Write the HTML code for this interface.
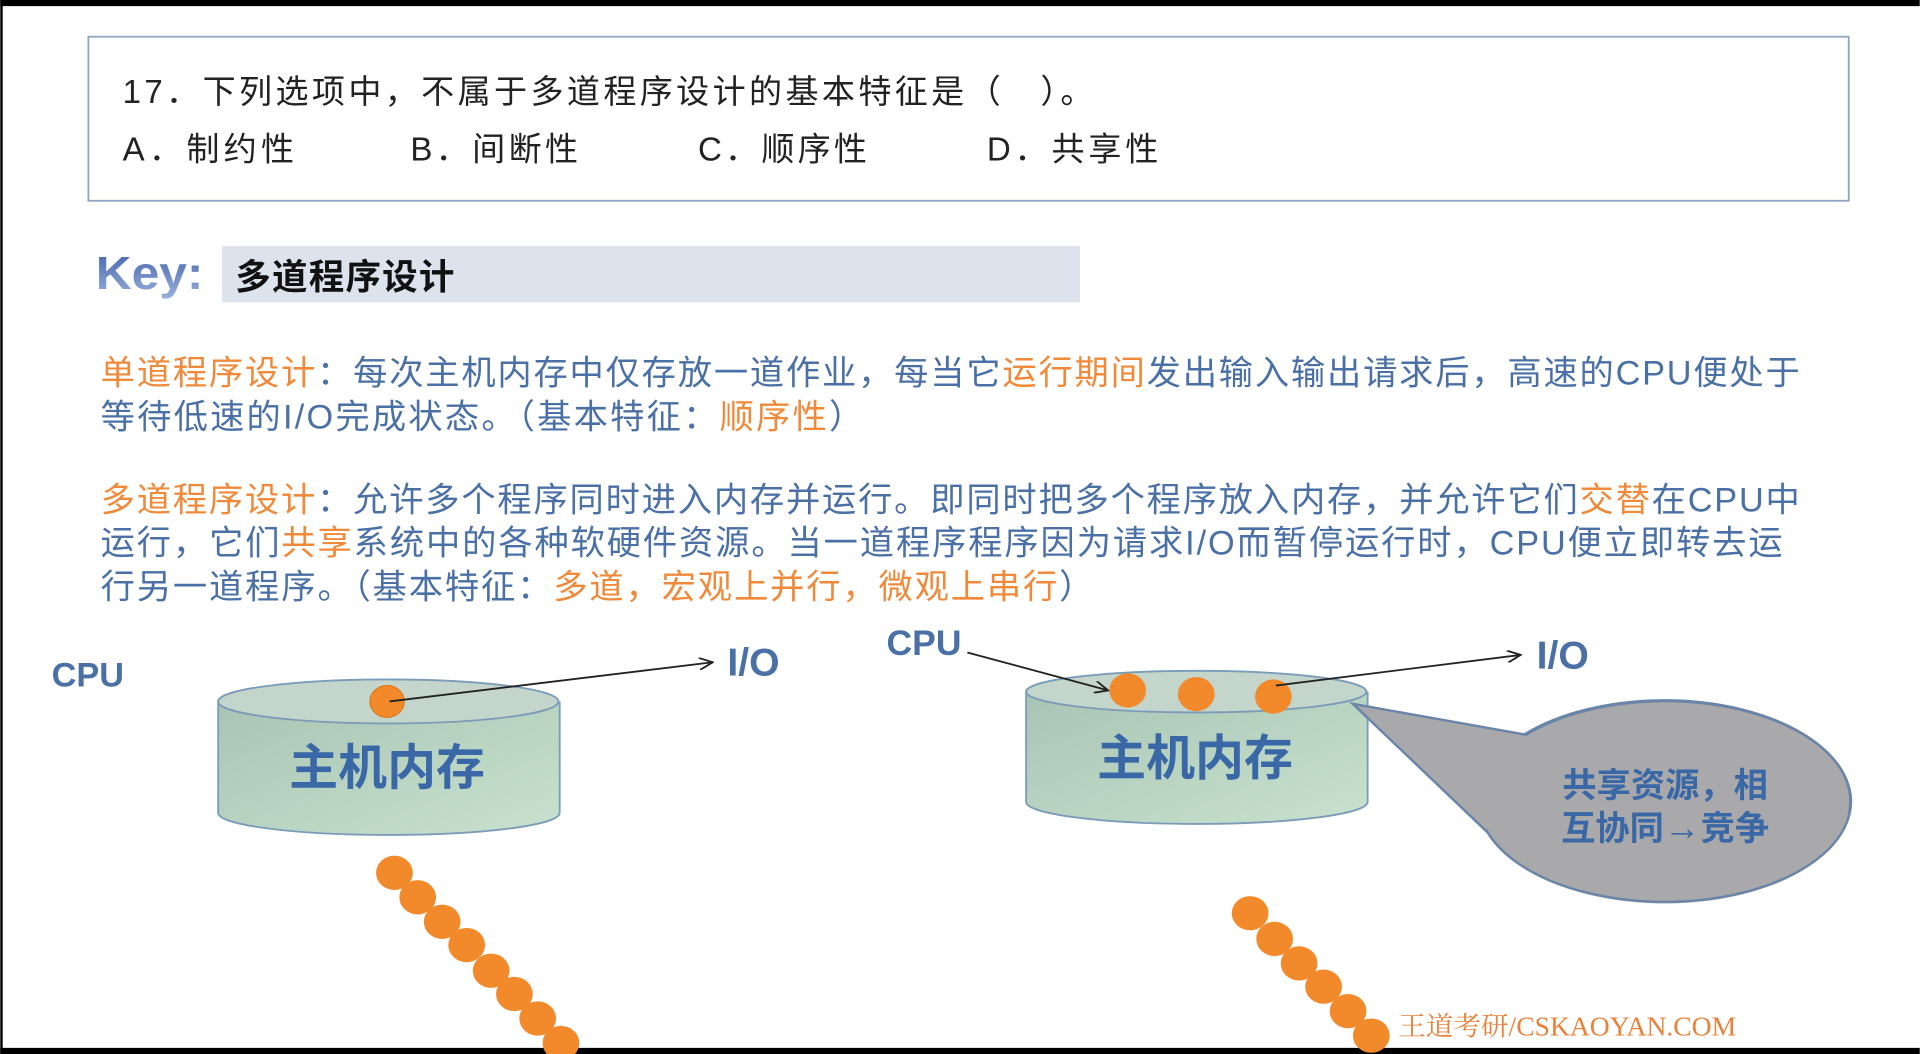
<!DOCTYPE html>
<html><head><meta charset="utf-8"><style>
html,body{margin:0;padding:0;background:#fff;width:1920px;height:1054px;overflow:hidden}
svg{display:block}
text{font-family:"Liberation Sans","Noto Sans CJK SC",sans-serif}
</style></head><body>
<svg width="1920" height="1054" viewBox="0 0 1568 861" xmlns="http://www.w3.org/2000/svg">
<defs>
<linearGradient id="cyl" x1="0" y1="0" x2="1" y2="1"><stop offset="0" stop-color="#a9c4b4"/><stop offset="1" stop-color="#c9e2cf"/></linearGradient>
<linearGradient id="key" x1="0" y1="0" x2="0" y2="1"><stop offset="0" stop-color="#3f5fa8"/><stop offset="1" stop-color="#9ab0dc"/></linearGradient>
<marker id="ar" markerWidth="12" markerHeight="10" refX="11" refY="5" orient="auto" markerUnits="userSpaceOnUse"><path d="M0,0 L11,5 L0,10" fill="none" stroke="#222" stroke-width="1.5"/></marker>
</defs>
<rect x="0" y="0" width="1568" height="861" fill="#fff"/>
<rect x="0" y="0" width="1568" height="5" fill="#000"/>
<rect x="0" y="856" width="1568" height="5" fill="#000"/>
<rect x="0" y="0" width="2" height="861" fill="#000"/>
<rect x="72" y="30" width="1438" height="134" fill="#fff" stroke="#8fa6c4" stroke-width="1.5"/>
<text x="100" y="84" font-size="27" fill="#222" textLength="793" lengthAdjust="spacing">17．下列选项中，不属于多道程序设计的基本特征是（　）。</text>
<g font-size="27" fill="#222">
<text x="100" y="131" textLength="140" lengthAdjust="spacing">A．制约性</text>
<text x="335" y="131" textLength="137" lengthAdjust="spacing">B．间断性</text>
<text x="570" y="131" textLength="138" lengthAdjust="spacing">C．顺序性</text>
<text x="806" y="131" textLength="140" lengthAdjust="spacing">D．共享性</text>
</g>
<text x="78" y="236" font-size="38" font-weight="bold" fill="url(#key)" textLength="88" lengthAdjust="spacingAndGlyphs">Key:</text>
<rect x="181" y="201" width="701" height="46" fill="#dce3ed"/>
<text x="192" y="236" font-size="29" font-weight="bold" fill="#111" textLength="179" lengthAdjust="spacing">多道程序设计</text>
<g font-size="28" fill="#4a70a6">
<text x="82" y="314" textLength="1388" lengthAdjust="spacing"><tspan fill="#f08a3a">单道程序设计</tspan>：每次主机内存中仅存放一道作业，每当它<tspan fill="#f08a3a">运行期间</tspan>发出输入输出请求后，高速的CPU便处于</text>
<text x="82" y="350" textLength="623" lengthAdjust="spacing">等待低速的I/O完成状态。（基本特征：<tspan fill="#f08a3a">顺序性</tspan>）</text>
<text x="82" y="418" textLength="1388" lengthAdjust="spacing"><tspan fill="#f08a3a">多道程序设计</tspan>：允许多个程序同时进入内存并运行。即同时把多个程序放入内存，并允许它们<tspan fill="#f08a3a">交替</tspan>在CPU中</text>
<text x="82" y="453" textLength="1374" lengthAdjust="spacing">运行，它们<tspan fill="#f08a3a">共享</tspan>系统中的各种软硬件资源。当一道程序程序因为请求I/O而暂停运行时，CPU便立即转去运</text>
<text x="82" y="489" textLength="811" lengthAdjust="spacing">行另一道程序。（基本特征：<tspan fill="#f08a3a">多道，宏观上并行，微观上串行</tspan>）</text>
</g>
<!-- left -->
<text x="42" y="561" font-size="28" font-weight="bold" fill="#4a70a6">CPU</text>
<path d="M178,573 L178,664 A139,18 0 0 0 457,664 L457,573" fill="url(#cyl)" stroke="#7a9cb8" stroke-width="1.5"/>
<ellipse cx="317" cy="573" rx="139" ry="18" fill="#c4d6cc" stroke="#7a9cb8" stroke-width="1.5"/>
<text x="316" y="641" font-size="40" font-weight="bold" fill="#3a68a6" text-anchor="middle">主机内存</text>
<ellipse cx="316" cy="573" rx="14" ry="13" fill="#f28a2c" stroke="#e07a20"/>
<line x1="318" y1="573" x2="582" y2="541" stroke="#222" stroke-width="1.5" marker-end="url(#ar)"/>
<text x="594" y="552" font-size="32" fill="#4a70a6" font-weight="bold">I/O</text>
<!-- right -->
<text x="724" y="535" font-size="29" font-weight="bold" fill="#4a70a6">CPU</text>
<path d="M838,565 L838,655 A139,18 0 0 0 1117,655 L1117,565" fill="url(#cyl)" stroke="#7a9cb8" stroke-width="1.5"/>
<ellipse cx="977" cy="565" rx="139" ry="17" fill="#c4d6cc" stroke="#7a9cb8" stroke-width="1.5"/>
<text x="976" y="633" font-size="40" font-weight="bold" fill="#3a68a6" text-anchor="middle">主机内存</text>
<ellipse cx="921" cy="564" rx="15" ry="14" fill="#f28a2c"/>
<ellipse cx="977" cy="567" rx="15" ry="14" fill="#f28a2c"/>
<ellipse cx="1040" cy="569" rx="15" ry="14" fill="#f28a2c"/>
<line x1="790" y1="533" x2="905" y2="564" stroke="#222" stroke-width="1.5" marker-end="url(#ar)"/>
<line x1="1042" y1="560" x2="1242" y2="535" stroke="#222" stroke-width="1.5" marker-end="url(#ar)"/>
<text x="1255" y="546" font-size="32" font-weight="bold" fill="#4a70a6">I/O</text>
<path d="M1105,575 L1245,600 A152,82 0 1 1 1215,680 Z" fill="#a9a8ab" stroke="#6a85a8" stroke-width="2"/>
<ellipse cx="1360" cy="658" rx="150" ry="80" fill="#a9a8ab"/>
<path d="M1245,601 A152,82 0 1 1 1214,678" fill="none" stroke="#6a85a8" stroke-width="2"/>
<text x="1360" y="651" font-size="28" font-weight="bold" fill="#3a68a6" text-anchor="middle">共享资源，相</text>
<text x="1360" y="686" font-size="28" font-weight="bold" fill="#3a68a6" text-anchor="middle">互协同<tspan font-size="30">→</tspan>竞争</text>
<g fill="#f28a2c">
<ellipse cx="322" cy="713" rx="15" ry="14"/><ellipse cx="341" cy="733" rx="15" ry="14"/><ellipse cx="361" cy="753" rx="15" ry="14"/><ellipse cx="381" cy="772" rx="15" ry="14"/><ellipse cx="401" cy="793" rx="15" ry="14"/><ellipse cx="420" cy="812" rx="15" ry="14"/><ellipse cx="439" cy="832" rx="15" ry="14"/><ellipse cx="458" cy="852" rx="15" ry="14"/>
<ellipse cx="1021" cy="746" rx="15" ry="14"/><ellipse cx="1041" cy="767" rx="15" ry="14"/><ellipse cx="1061" cy="787" rx="15" ry="14"/><ellipse cx="1081" cy="806" rx="15" ry="14"/><ellipse cx="1101" cy="826" rx="15" ry="14"/><ellipse cx="1120" cy="846" rx="15" ry="14"/>
</g>
<text x="1142" y="846" font-size="22" fill="#e8823a" textLength="276" lengthAdjust="spacingAndGlyphs" style="font-family:'Liberation Serif','Noto Serif CJK SC',serif">王道考研/CSKAOYAN.COM</text>
</svg>
</body></html>
